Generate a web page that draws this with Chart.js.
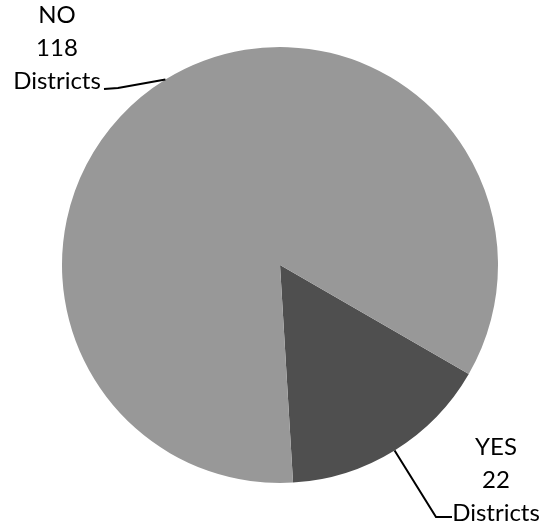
<!DOCTYPE html>
<html>
<head>
<meta charset="utf-8">
<script src="https://cdn.jsdelivr.net/npm/chart.js@4/dist/chart.umd.min.js"></script>
<style>
  html, body { margin: 0; padding: 0; background: #ffffff; }
  #wrap { width: 543px; height: 525px; }
</style>
</head>
<body>
<div id="wrap"><canvas id="pieChart"></canvas></div>
<script>
// data
const categories = ['YES', 'NO'];
const districts = [22, 118];
const sliceColors = ['#4f4f4f', '#989898'];

// label text blocks and where they sit (annotation layout only)
const labelSpots = [
    { lines: ['YES', '22', 'Districts'], x: 496, y: 447, elbow: [436, 517], end: [452, 517] },
    { lines: ['NO', '118', 'Districts'], x: 57, y: 15, elbow: [118, 88], end: [104, 89] }
];

// draws the call-out text and leader lines, starting each line at the slice's mid-angle edge
const calloutPlugin = {
    id: 'callouts',
    afterDatasetsDraw(chart) {
        const ctx = chart.ctx;
        const arcs = chart.getDatasetMeta(0).data;
        ctx.save();
        ctx.fillStyle = '#000';
        ctx.strokeStyle = '#000';
        ctx.lineWidth = 2;
        ctx.font = '24px Lato, "Open Sans", sans-serif';
        ctx.textAlign = 'center';
        ctx.textBaseline = 'middle';
        arcs.forEach((arc, i) => {
            const p = arc.getProps(['x', 'y', 'startAngle', 'endAngle', 'outerRadius'], true);
            const mid = (p.startAngle + p.endAngle) / 2;
            const sx = p.x + Math.cos(mid) * p.outerRadius;
            const sy = p.y + Math.sin(mid) * p.outerRadius;
            const spot = labelSpots[i];
            ctx.beginPath();
            ctx.moveTo(sx, sy);
            ctx.lineTo(spot.elbow[0], spot.elbow[1]);
            ctx.lineTo(spot.end[0], spot.end[1]);
            ctx.stroke();
            spot.lines.forEach((t, k) => {
                ctx.fillText(t, spot.x, spot.y + k * 33);
            });
        });
        ctx.restore();
    }
};

new Chart(document.getElementById('pieChart'), {
    type: 'pie',
    data: {
        labels: categories,
        datasets: [{
            data: districts,
            backgroundColor: sliceColors,
            borderWidth: 0
        }]
    },
    options: {
        responsive: true,
        maintainAspectRatio: false,
        animation: false,
        rotation: 120,
        layout: { padding: { top: 47, bottom: 42, left: 62, right: 45 } },
        plugins: { legend: { display: false }, tooltip: { enabled: false } }
    },
    plugins: [calloutPlugin]
});
</script>
</body>
</html>
